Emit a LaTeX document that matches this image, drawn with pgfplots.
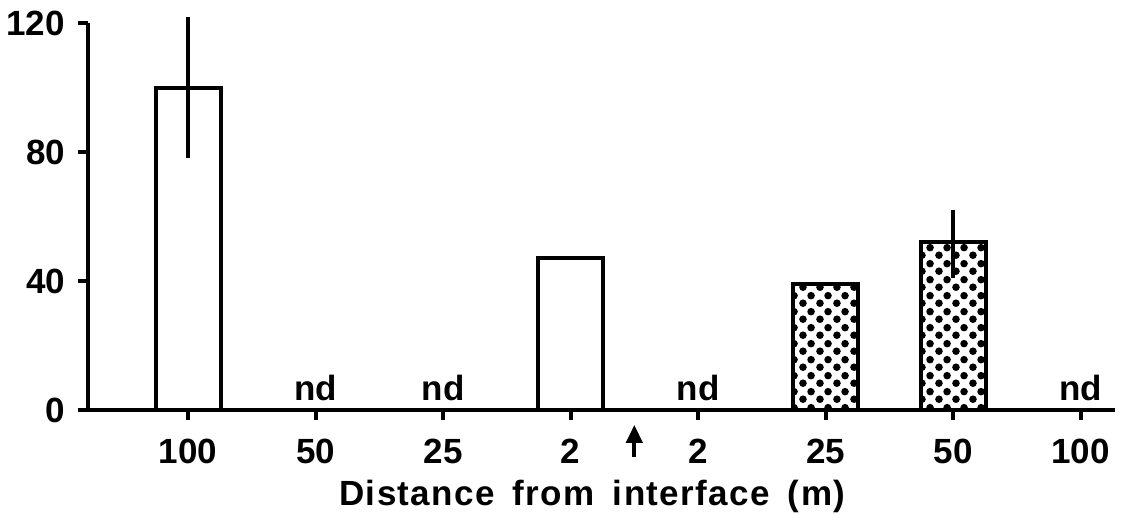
\documentclass[border=0pt]{standalone}
\usepackage{fontspec}
\setmainfont{Liberation Sans}
\usepackage{pgfplots}
\pgfplotsset{compat=1.18}
\usetikzlibrary{patterns.meta, arrows.meta}
\pgfdeclarepattern{name=bigdots, type=uncolored,
  bottom left={\pgfpoint{0pt}{0pt}}, top right={\pgfpoint{8.5pt}{8pt}},
  tile size={\pgfpoint{8.5pt}{8pt}},
  code={\pgfpathcircle{\pgfpoint{2.1pt}{2pt}}{2pt}
        \pgfpathcircle{\pgfpoint{6.35pt}{6pt}}{2pt}
        \pgfusepath{fill}}}
\newcommand{\lab}{\bfseries\fontsize{17.5}{20}\selectfont}
\begin{document}
\begin{tikzpicture}
\begin{axis}[
  name=ax, scale only axis, width=513.5pt, height=193.5pt,
  xmin=0.215, xmax=8.27, ymin=0, ymax=120,
  axis lines*=left,
  xtick={1,2,3,4,5,6,7,8},
  xticklabels={100,50,25,2,2,25,50,100},
  ytick={0,40,80,120},
  tick align=outside, major tick length=5pt,
  tick style={line width=2pt, black},
  axis line style={line width=2pt, black},
  tick label style={font=\lab},
  /pgf/number format/assume math mode=true,
  xticklabel style={yshift=-6pt},
  yticklabel style={xshift=-3pt},
  clip=false,
]
\addplot[ybar, bar width=32.5pt, bar shift=0pt, fill=white, draw=black, line width=2pt]
  coordinates {(1,100) (4,47)};
\addplot[ybar, bar width=32.5pt, bar shift=0pt, draw=black, line width=2pt, pattern=bigdots, pattern color=black]
  coordinates {(6,39) (7,52)};
\addplot[draw=none, mark=none, forget plot,
  error bars/.cd, y dir=both, y explicit, error mark=none,
  error bar style={line width=2pt, draw=black, solid}]
  coordinates {(1,100) += (0,22) -= (0,22) (7,52) += (0,10) -= (0,11)};
\node[anchor=base, font=\lab] at (axis cs:2,3) {nd};
\node[anchor=base, font=\lab] at (axis cs:3,3) {nd};
\node[anchor=base, font=\lab] at (axis cs:5,3) {nd};
\node[anchor=base, font=\lab] at (axis cs:8,3) {nd};
\draw[line width=2pt, -{Triangle[length=9pt,width=8pt]}] (axis cs:4.5,-14.5) -- (axis cs:4.5,-4.6);
\node[anchor=base, font=\lab\addfontfeatures{LetterSpace=4}] at (axis cs:4.17,-29.5) {Distance\hspace{9pt}from\hspace{9pt}interface\hspace{9pt}(m)};
\end{axis}
\pgfresetboundingbox
\path ([shift={(-44pt,-52.5pt)}]ax.south west) rectangle ([shift={(6pt,11.5pt)}]ax.north east);
\end{tikzpicture}
\end{document}
